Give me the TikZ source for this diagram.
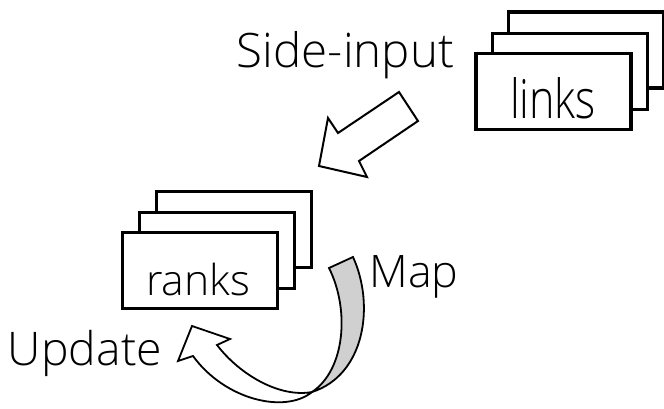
\documentclass[tikz,border=0pt]{standalone}
\usepackage{graphicx}
\usepackage{fontspec}
\IfFontExistsTF{Open Sans Light}{\setmainfont{Open Sans Light}}{%
  \IfFontExistsTF{Lato Light}{\setmainfont{Lato Light}}{\setmainfont{Carlito}}}
\definecolor{backgray}{RGB}{208,208,208}
\newcommand{\fitw}[2]{\resizebox{#1}{!}{#2}}
\begin{document}
\begin{tikzpicture}[x=1pt,y=-1pt,
  card/.style={draw, line width=3.3pt, fill=white, inner sep=0pt,
               minimum width=155pt, minimum height=76pt},
  lbl/.style={inner sep=0pt, anchor=base, font=\fontsize{50}{60}\selectfont},
  blockarrow/.style={draw, line width=2pt, fill=white, line join=miter},
  ribbon/.style={draw, line width=1.8pt}]
\useasboundingbox (0,0) rectangle (664,408);

% stack of "links" pages
\node[card] (lk3) at (586,50) {};
\node[card] (lk2) at (570,71.5) {};
\node[card] (lk1) at (553.5,91.5) {};
\node[lbl] (tlinks) at (553,118) {\resizebox{86pt}{41pt}{links}};

% stack of "ranks" pages
\node[card] (rk3) at (234,229.5) {};
\node[card] (rk2) at (217,250.5) {};
\node[card] (rk1) at (200,270.5) {};
\node[lbl] (tranks) at (198,295) {\fitw{104pt}{ranks}};

% labels
\node[lbl] (tside) at (345.5,67) {\fitw{217pt}{Side-input}};
\node[lbl] (tmap) at (414,287) {\fitw{89pt}{Map}};
\node[lbl] (tupdate) at (85,365) {\fitw{154pt}{Update}};

% side-input block arrow
\draw[blockarrow] (319,166) -- (328,118) -- (338,133) -- (399,92)
  -- (418,121) -- (359,161) -- (367,177) -- cycle;

% curved map/update arrow: back of the ribbon, then its front with the head
\coordinate (twist) at (312,392);
\filldraw[ribbon, fill=backgray] (329,268) -- (353,257)
  .. controls (375,305) and (365,375) .. (twist)
  .. controls (345,370) and (350,310) .. (329,268) -- cycle;
\filldraw[ribbon, fill=white] (217,345) -- (230,339) -- (192,326)
  -- (178,361) -- (193,356)
  .. controls (225,400) and (285,414) .. (twist)
  .. controls (280,398) and (240,375) .. (217,345) -- cycle;
\end{tikzpicture}
\end{document}
